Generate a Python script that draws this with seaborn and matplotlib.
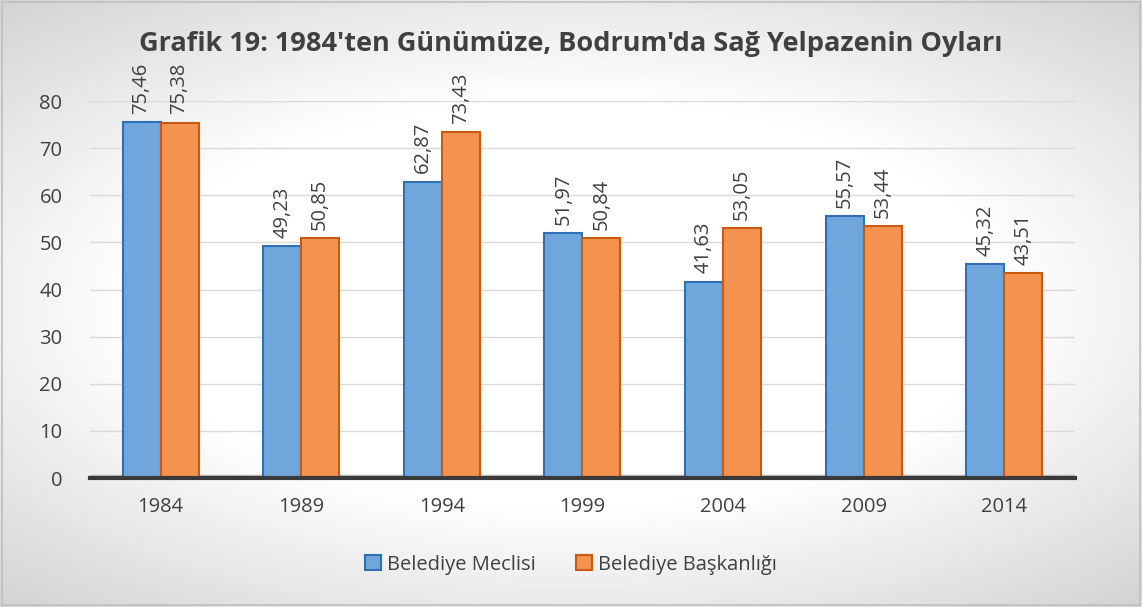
import numpy as np
import pandas as pd
import matplotlib.pyplot as plt
import seaborn as sns
from matplotlib.patches import Patch
from matplotlib.colors import LinearSegmentedColormap

yillar = ['1984', '1989', '1994', '1999', '2004', '2009', '2014']
meclis = [75.46, 49.23, 62.87, 51.97, 41.63, 55.57, 45.32]
baskanlik = [75.38, 50.85, 73.43, 50.84, 53.05, 53.44, 43.51]
seriler = ['Belediye Meclisi', 'Belediye Başkanlığı']

df = pd.DataFrame({
    'yil': yillar * 2,
    'oy': meclis + baskanlik,
    'seri': [seriler[0]] * len(yillar) + [seriler[1]] * len(yillar),
})

sns.set_style('white')
plt.rcParams['font.family'] = ['Open Sans', 'DejaVu Sans']

yuz = ['#6fa6dc', '#f4924f']
kenar = ['#2f6fb3', '#c85a12']
yazi = '#404040'

fig = plt.figure(figsize=(11.42, 6.07), dpi=100)

# arka plan: ortasi beyaz, koseler acik gri
bg = fig.add_axes([0, 0, 1, 1], zorder=-10)
yy, xx = np.mgrid[-1:1:300j, -1:1:600j]
r = np.sqrt((xx * 0.75) ** 2 + (yy * 0.85) ** 2)
gri = LinearSegmentedColormap.from_list('gri', ['#ffffff', '#ffffff', '#d2d2d2'])
bg.imshow(np.clip(r, 0, 1.15), cmap=gri, vmin=0, vmax=1.15, aspect='auto',
          extent=[0, 1, 0, 1], origin='lower')
bg.add_patch(plt.Rectangle((0.002, 0.003), 0.996, 0.994, fill=False,
                           edgecolor='#bfbfbf', lw=1.2))
bg.set_axis_off()

ax = fig.add_axes([0.079, 0.2125, 0.862, 0.6211])
ax.patch.set_alpha(0)
sns.barplot(data=df, x='yil', y='oy', hue='seri', palette=yuz, width=0.54,
            saturation=1, ax=ax, legend=False)

for i, cont in enumerate(ax.containers):
    for bar in cont:
        bar.set_edgecolor(kenar[i])
        bar.set_linewidth(1.5)
    degerler = meclis if i == 0 else baskanlik
    ax.bar_label(cont, labels=[f'{v:.2f}'.replace('.', ',') for v in degerler],
                 rotation=90, padding=6, fontsize=14.5, color=yazi, clip_on=False)

ax.set_ylim(0, 80)
ax.set_yticks(range(0, 81, 10))
ax.yaxis.grid(True, color='#d9d9d9', lw=1)
ax.set_axisbelow(True)
ax.axhspan(0, 0.6, color='#bdbdbd', zorder=0.5)
for s in ['top', 'right', 'left']:
    ax.spines[s].set_visible(False)
ax.spines['bottom'].set_color('#3a3a3a')
ax.spines['bottom'].set_linewidth(3)
ax.tick_params(axis='both', length=0, labelsize=14.5, colors=yazi)
ax.tick_params(axis='x', pad=14)
ax.tick_params(axis='y', pad=20)
ax.set_xlabel('')
ax.set_ylabel('')

fig.text(0.5, 0.928, "Grafik 19: 1984'ten Günümüze, Bodrum'da Sağ Yelpazenin Oyları",
         ha='center', va='center', fontsize=19.5, fontweight='bold', color=yazi)

tutamac = [Patch(facecolor=yuz[i], edgecolor=kenar[i], lw=1.5, label=seriler[i])
           for i in range(2)]
fig.legend(handles=tutamac, loc='center', bbox_to_anchor=(0.5, 0.07), ncol=2,
           frameon=False, fontsize=14.5, handlelength=0.8, handleheight=0.8,
           handletextpad=0.3, columnspacing=2.0, labelcolor=yazi)

fig.savefig('out.png', dpi=100)
